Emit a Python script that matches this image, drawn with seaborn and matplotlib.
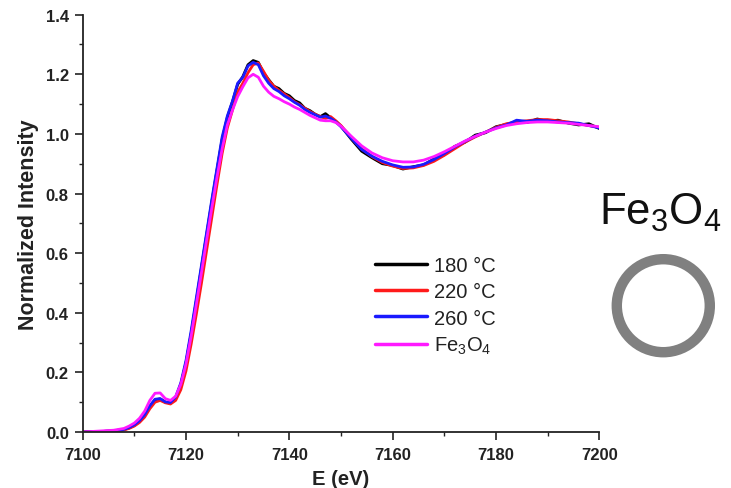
import numpy as np
import pandas as pd
import matplotlib
matplotlib.use("Agg")
import matplotlib.pyplot as plt
from matplotlib.patches import Circle
from matplotlib.lines import Line2D
from matplotlib.ticker import MultipleLocator, FormatStrFormatter
import seaborn as sns

# Fe K-edge XANES spectra (energy in eV, normalized absorption)
energy = [7100, 7102, 7104, 7106, 7108, 7109, 7110, 7111, 7112, 7113, 7114, 7115,
          7116, 7117, 7118, 7119, 7120, 7121, 7122, 7123, 7124, 7125, 7126, 7127,
          7128, 7129, 7130, 7131, 7132, 7133, 7134, 7135, 7136, 7137, 7138, 7139,
          7140, 7141, 7142, 7143, 7144, 7145, 7146, 7147, 7148, 7149, 7150, 7152,
          7154, 7156, 7158, 7160, 7162, 7164, 7166, 7168, 7170, 7172, 7174, 7176,
          7178, 7180, 7182, 7184, 7186, 7188, 7190, 7192, 7194, 7196, 7198, 7200]

s180 = [0.000, 0.001, 0.002, 0.004, 0.008, 0.014, 0.022, 0.036, 0.055, 0.085, 0.108, 0.111,
        0.100, 0.097, 0.114, 0.160, 0.232, 0.330, 0.440, 0.552, 0.662, 0.772, 0.878, 0.982,
        1.055, 1.108, 1.166, 1.192, 1.232, 1.246, 1.240, 1.205, 1.182, 1.160, 1.152, 1.136,
        1.128, 1.112, 1.104, 1.086, 1.078, 1.066, 1.058, 1.068, 1.054, 1.042, 1.026, 0.982,
        0.942, 0.920, 0.900, 0.894, 0.882, 0.890, 0.896, 0.916, 0.930, 0.958, 0.972, 0.996,
        1.004, 1.024, 1.032, 1.040, 1.038, 1.050, 1.042, 1.046, 1.036, 1.030, 1.034, 1.018]

s220 = [0.000, 0.001, 0.002, 0.003, 0.007, 0.012, 0.020, 0.032, 0.050, 0.078, 0.100, 0.106,
        0.098, 0.094, 0.106, 0.142, 0.205, 0.295, 0.395, 0.500, 0.610, 0.720, 0.830, 0.935,
        1.020, 1.080, 1.140, 1.170, 1.205, 1.232, 1.238, 1.210, 1.180, 1.160, 1.146, 1.134,
        1.122, 1.108, 1.098, 1.086, 1.075, 1.066, 1.058, 1.052, 1.058, 1.044, 1.028, 0.988,
        0.950, 0.924, 0.904, 0.892, 0.884, 0.886, 0.894, 0.908, 0.928, 0.950, 0.972, 0.990,
        1.006, 1.022, 1.034, 1.040, 1.044, 1.048, 1.048, 1.044, 1.040, 1.034, 1.028, 1.022]

s260 = [0.000, 0.001, 0.002, 0.004, 0.009, 0.015, 0.024, 0.038, 0.058, 0.088, 0.110, 0.112,
        0.101, 0.099, 0.118, 0.165, 0.240, 0.340, 0.450, 0.560, 0.670, 0.780, 0.885, 0.990,
        1.060, 1.110, 1.170, 1.190, 1.228, 1.240, 1.232, 1.195, 1.170, 1.152, 1.142, 1.128,
        1.118, 1.106, 1.096, 1.082, 1.072, 1.064, 1.056, 1.060, 1.052, 1.040, 1.024, 0.985,
        0.948, 0.925, 0.908, 0.896, 0.888, 0.889, 0.898, 0.914, 0.934, 0.956, 0.975, 0.992,
        1.006, 1.020, 1.030, 1.046, 1.042, 1.046, 1.044, 1.040, 1.038, 1.036, 1.028, 1.020]

s_fe3o4 = [0.000, 0.002, 0.004, 0.006, 0.012, 0.020, 0.030, 0.046, 0.070, 0.106, 0.130, 0.131,
           0.112, 0.106, 0.120, 0.160, 0.228, 0.322, 0.428, 0.535, 0.645, 0.752, 0.855, 0.950,
           1.030, 1.080, 1.125, 1.158, 1.188, 1.200, 1.190, 1.160, 1.140, 1.126, 1.118, 1.108,
           1.100, 1.090, 1.082, 1.072, 1.062, 1.054, 1.046, 1.044, 1.044, 1.038, 1.026, 0.992,
           0.960, 0.936, 0.920, 0.910, 0.906, 0.906, 0.912, 0.924, 0.940, 0.958, 0.976, 0.992,
           1.006, 1.018, 1.028, 1.034, 1.038, 1.040, 1.040, 1.038, 1.036, 1.032, 1.028, 1.024]

labels = ["180 \u00b0C", "220 \u00b0C", "260 \u00b0C", "Fe$_\\mathregular{3}$O$_\\mathregular{4}$"]
colors = ["#000000", "#ff1a1a", "#1a1aff", "#ff1aff"]

series = [s180, s220, s260, s_fe3o4]
df = pd.concat(
    [pd.DataFrame({"E": energy, "I": vals, "sample": lab}) for lab, vals in zip(labels, series)],
    ignore_index=True,
)

sns.set_theme(style="ticks")
plt.rcParams["font.family"] = ["Liberation Sans", "DejaVu Sans"]
plt.rcParams["mathtext.fontset"] = "custom"
plt.rcParams["mathtext.rm"] = "Liberation Sans"
plt.rcParams["mathtext.it"] = "Liberation Sans:italic"
plt.rcParams["mathtext.bf"] = "Liberation Sans:bold"

fig = plt.figure(figsize=(7.31, 4.89), dpi=100)
ax = fig.add_axes([0.1131, 0.1145, 0.7067, 0.8535])

sns.lineplot(data=df, x="E", y="I", hue="sample", palette=dict(zip(labels, colors)),
             hue_order=labels, linewidth=2.0, sort=False, estimator=None,
             legend=False, ax=ax)

ax.set_xlim(7100, 7200)
ax.set_ylim(0.0, 1.4)
ax.xaxis.set_major_locator(MultipleLocator(20))
ax.xaxis.set_minor_locator(MultipleLocator(10))
ax.yaxis.set_major_locator(MultipleLocator(0.2))
ax.yaxis.set_minor_locator(MultipleLocator(0.1))
ax.yaxis.set_major_formatter(FormatStrFormatter("%.1f"))

sns.despine(ax=ax)
for sp in ("left", "bottom"):
    ax.spines[sp].set_linewidth(1.3)
    ax.spines[sp].set_color("#222222")
ax.tick_params(which="major", direction="out", length=6, width=1.2, color="#222222",
               labelsize=12)
ax.tick_params(which="minor", direction="out", length=3, width=1.0, color="#222222")
ax.tick_params(axis="x", which="major", pad=5)
ax.tick_params(axis="y", which="major", pad=4)
for t in ax.get_xticklabels() + ax.get_yticklabels():
    t.set_fontweight("bold")
    t.set_color("#222222")

ax.set_xlabel("E (eV)", fontsize=14.5, fontweight="bold", color="#222222", labelpad=5)
ax.set_ylabel("Normalized Intensity", fontsize=15.5, fontweight="bold", color="#222222")
ax.yaxis.set_label_coords(-0.085, 0.5)

handles = [Line2D([], [], color=c, lw=2.5) for c in colors]
leg = ax.legend(handles, labels, loc="upper left", bbox_to_anchor=(0.55, 0.44),
                frameon=False, fontsize=14.5, handlelength=2.6, handletextpad=0.35,
                labelspacing=0.35, borderaxespad=0)
for txt in leg.get_texts():
    txt.set_color("#222222")

fig.text(0.819, 0.54, "Fe$_\\mathregular{3}$O$_\\mathregular{4}$", fontsize=31.5,
         color="#111111", ha="left", va="baseline")
ring = Circle((6.633, 1.823), 0.465, transform=fig.dpi_scale_trans, fill=False,
              edgecolor="#808080", linewidth=7.5)
fig.patches.append(ring)

fig.savefig("out.png", dpi=100)
